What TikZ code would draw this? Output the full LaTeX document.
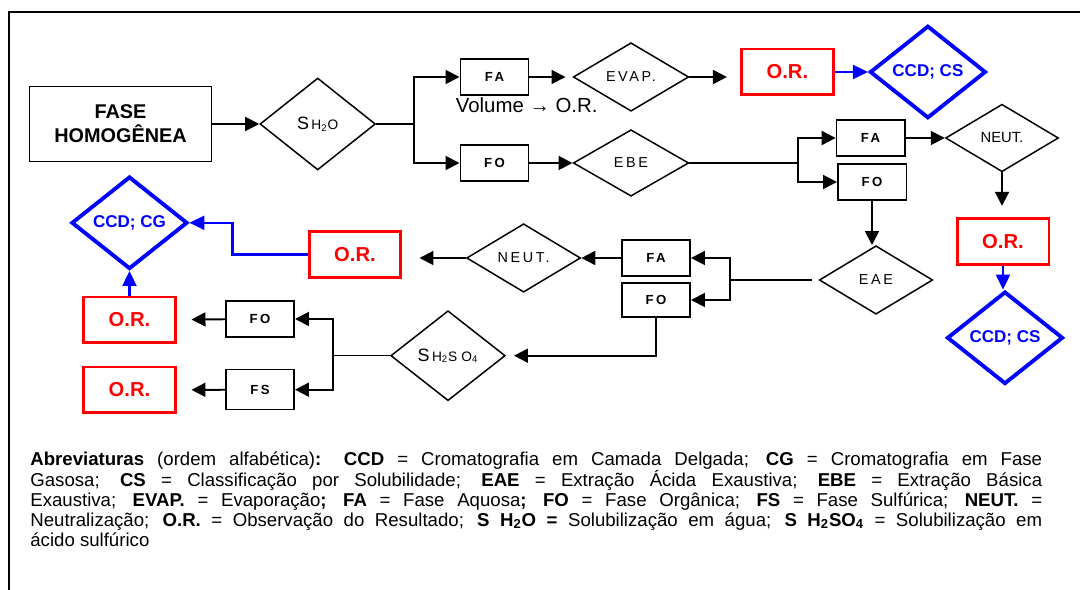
\documentclass[tikz,border=0pt]{standalone}
\usepackage{fontspec}
\setmainfont{Liberation Sans}
\newfontfamily\spacedfont[LetterSpace=18]{Liberation Sans}
\newfontfamily\widefont[LetterSpace=30]{Liberation Sans}
\usetikzlibrary{shapes.geometric,arrows.meta}
\definecolor{ORRed}{HTML}{FF0000}
\definecolor{CCDBlue}{HTML}{0000FF}
\tikzset{
  bigbx/.style={draw,line width=0.85pt,minimum width=3.65cm,minimum height=1.51cm,
    inner sep=0pt,align=center,font=\bfseries\fontsize{11.3}{13.6}\selectfont},
  bx/.style={draw,line width=0.85pt,minimum width=1.37cm,minimum height=0.72cm,
    inner sep=0pt,font=\spacedfont\bfseries\fontsize{7.5}{9}\selectfont},
  orbx/.style={draw=ORRed,line width=1.7pt,text=ORRed,minimum width=1.84cm,
    minimum height=0.92cm,inner sep=0pt,font=\bfseries\fontsize{11.5}{13}\selectfont},
  dm/.style={diamond,draw,line width=0.85pt,inner sep=0pt,
    font=\spacedfont\fontsize{8.2}{10}\selectfont},
  dmb/.style={diamond,draw=CCDBlue,line width=2.2pt,text=CCDBlue,inner sep=0pt,
    minimum width=2.32cm,minimum height=1.85cm,font=\bfseries\fontsize{9.7}{11}\selectfont},
  flow/.style={-{Triangle[length=2.8mm,width=2.8mm]},line width=1.1pt},
  bflow/.style={-{Triangle[length=3mm,width=2.8mm]},draw=CCDBlue,line width=1.2pt},
  ln/.style={line width=0.7pt},
  lbl/.style={inner sep=0pt,font=\fontsize{11.6}{13}\selectfont},
  leg/.style={anchor=base west,inner sep=0pt,text width=20.24cm,align=justify,
    font=\fontsize{10.6}{11.4}\selectfont},
}
\newcommand{\solub}[1]{{\fontsize{10.2}{11}\selectfont S}\,{\widefont\fontsize{7.8}{9}\selectfont #1}}

\begin{document}
\begin{tikzpicture}[x=0.02cm,y=-0.02cm]
\useasboundingbox (0,0) rectangle (1080,590);
\draw[line width=1.1pt] (8.6,590) -- (8.6,12.3) -- (1080,12.3);

\node[bigbx] (fase) at (120.5,124) {FASE\\HOMOGÊNEA};
\node[dm,minimum width=2.31cm,minimum height=1.84cm] (sh2o) at (317.7,124)
  {\solub{H\textsubscript{2}O}};
\coordinate (jA) at (414.3,124);
\node[bx] (faA) at (494.5,77) {FA};
\node[bx] (foA) at (494.5,163) {FO};
\node[lbl] (vol) at (526.7,105) {Volume → O.R.};
\node[dm,minimum width=2.31cm,minimum height=1.37cm] (evap) at (631,77) {EVAP.};
\node[orbx] (orA) at (787.4,72) {O.R.};
\node[dmb] (ccdA) at (927.9,72) {CCD; CS};
\node[dm,minimum width=2.31cm,minimum height=1.33cm] (ebe) at (631,163) {EBE};
\coordinate (jB) at (797.6,163);
\node[bx] (faB) at (870.6,138) {FA};
\node[bx] (foB) at (872,182) {FO};
\node[dm,font=\fontsize{8.4}{10}\selectfont,minimum width=2.26cm,minimum height=1.35cm]
  (neutA) at (1002,138) {NEUT.};
\node[orbx] (orB) at (1003,241.3) {O.R.};
\node[dmb] (ccdB) at (1005,337.8) {CCD; CS};
\node[dm,minimum width=2.27cm,minimum height=1.37cm] (eae) at (876,280) {EAE};
\coordinate (jC) at (730.4,280);
\node[bx] (faC) at (656,258) {FA};
\node[bx,minimum height=0.68cm] (foC) at (656,300) {FO};
\node[dm,minimum width=2.28cm,minimum height=1.37cm] (neutB) at (523.6,258) {NEUT.};
\node[orbx] (orC) at (355,254.5) {O.R.};
\node[dmb] (ccdC) at (129.5,222.8) {CCD; CG};
\node[orbx] (orD) at (129.5,320) {O.R.};
\node[bx] (foD) at (260,319) {FO};
\node[bx,minimum height=0.8cm] (fsD) at (260,389.7) {FS};
\node[orbx] (orE) at (129.5,390) {O.R.};
\node[dm,minimum width=2.29cm,minimum height=1.8cm] (sso) at (448,355.7)
  {\solub{H\textsubscript{2}SO\textsubscript{4}}};
\coordinate (jD) at (333.3,355.7);

\draw[flow] (fase) -- (sh2o);
\draw[ln] (sh2o.east) -- (jA);
\draw[flow] (jA) |- (faA.west);
\draw[flow] (jA) |- (foA.west);
\draw[flow,shorten >=1.4mm] (faA) -- (evap);
\draw[flow,shorten >=2.6mm] (evap.east) -- (evap.east -| orA.west);
\draw[bflow] (orA) -- (ccdA);
\draw[flow] (foA) -- (ebe);
\draw[ln] (ebe.east) -- (jB);
\draw[flow] (jB) |- (faB.west);
\draw[flow] (jB) |- (foB.west);
\draw[flow] (faB) -- (neutA);
\draw[flow,shorten >=2.2mm] (neutA.south) -- (neutA.south |- orB.north);
\draw[bflow] (orB.south) -- (orB.south |- ccdB.north);
\draw[flow] (foB.south) -- (foB.south |- eae.north);
\draw[ln,shorten <=1.4mm] (eae.west) -- (jC);
\draw[flow] (jC) |- (faC.east);
\draw[flow] (jC) |- (foC.east);
\draw[flow] (faC) -- (neutB);
\draw[flow,shorten >=3.4mm] (neutB.west) -- (neutB.west -| orC.east);
\draw[bflow] (orC.west) -- ++(-75,0) |- (ccdC.east);
\draw[bflow] (orD) -- (ccdC);
\draw[flow,shorten >=1.6mm] (foC.south) |- (sso.east);
\draw[ln] (sso.west) -- (jD);
\draw[flow] (jD) |- (foD.east);
\draw[flow] (jD) |- (fsD.east);
\draw[flow,shorten >=2.9mm] (foD) -- (orD);
\draw[flow,shorten >=2.9mm] (fsD) -- (orE);

\node[leg] (abrev) at (30,466)
  {\textbf{Abreviaturas} (ordem alfabética)\textbf{:} \textbf{CCD} = Cromatografia em
   Camada Delgada; \textbf{CG} = Cromatografia em Fase\linebreak
   Gasosa; \textbf{CS} = Classificação por Solubilidade; \textbf{EAE} = Extração Ácida
   Exaustiva; \textbf{EBE} = Extração Básica\linebreak
   Exaustiva; \textbf{EVAP.} = Evaporação\textbf{;} \textbf{FA} = Fase Aquosa\textbf{;}
   \textbf{FO} = Fase Orgânica; \textbf{FS} = Fase Sulfúrica; \textbf{NEUT.} =\linebreak
   Neutralização; \textbf{O.R.} = Observação do Resultado; \textbf{S H\textsubscript{2}O =}
   Solubilização em água; \textbf{S H\textsubscript{2}SO\textsubscript{4}} = Solubilização
   em\linebreak
   ácido sulfúrico};
\end{tikzpicture}
\end{document}
